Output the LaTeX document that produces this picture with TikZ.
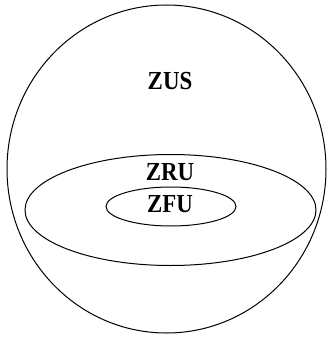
\documentclass[tikz,border=0pt]{standalone}
\usepackage{fontspec}
\setmainfont{Liberation Serif}
\begin{document}
\begin{tikzpicture}[x=1pt,y=-1pt,
  shape line/.style={draw=black,line width=1pt},
  lbl/.style={font=\fontsize{26}{28}\selectfont\bfseries,xscale=0.88,inner sep=0pt}]
\useasboundingbox (0,0) rectangle (329,337);
\draw[shape line] (166.5,169) ellipse [x radius=159.5, y radius=164];
\draw[shape line] (170.5,210) ellipse [x radius=145.5, y radius=55.5];
\draw[shape line] (171,206.5) ellipse [x radius=65, y radius=19.5];
\node[lbl] (zus) at (170,81) {ZUS};
\node[lbl] (zru) at (170,172) {ZRU};
\node[lbl] (zfu) at (170,204) {ZFU};
\end{tikzpicture}
\end{document}
